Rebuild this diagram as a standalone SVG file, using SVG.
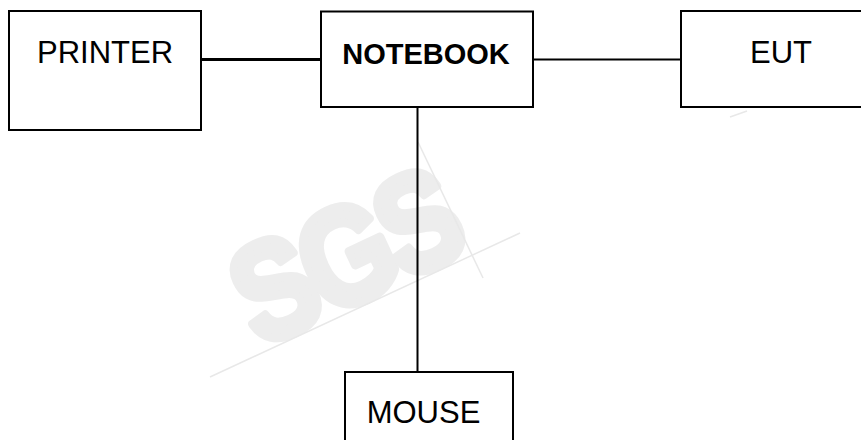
<svg xmlns="http://www.w3.org/2000/svg" width="861" height="440" viewBox="0 0 861 440">
<style>
.box{fill:none;stroke:#000;stroke-width:2}
.lbl{font-family:"Liberation Sans",Arial,sans-serif;font-size:31px;fill:#000;text-anchor:middle}
.bold{font-weight:bold;font-size:29px}
.wm{font-family:"Liberation Sans",Arial,sans-serif;font-weight:bold;font-size:138px;fill:#ededed;stroke:#ededed;stroke-width:9;stroke-linejoin:round;text-anchor:middle}
.wml{stroke:#e8e8e8;stroke-width:1.5;fill:none}
.conn{stroke:#000;fill:none}
</style>
<rect width="861" height="440" fill="#fff"/>
<g id="watermark">
<g transform="translate(346,254) rotate(-25) scale(0.85,1)">
<text class="wm" x="-93 0 93" y="49">SGS</text>
</g>
<line class="wml" x1="210" y1="377" x2="520" y2="233"/>
<line class="wml" x1="418" y1="142" x2="483" y2="278"/>
<line class="wml" x1="730" y1="117" x2="747" y2="111"/>
</g>
<g id="connectors">
<line class="conn" stroke-width="3" x1="201" y1="59.5" x2="321" y2="59.5"/>
<line class="conn" stroke-width="2" x1="533" y1="59.5" x2="681" y2="59.5"/>
<line class="conn" stroke-width="2" x1="417.5" y1="107" x2="417.5" y2="372"/>
</g>
<g id="printer">
<rect class="box" x="9" y="11" width="192" height="119"/>
<text class="lbl" x="105" y="63">PRINTER</text>
</g>
<g id="notebook">
<rect class="box" x="321" y="11.5" width="212" height="95.5"/>
<text class="lbl bold" x="426" y="64">NOTEBOOK</text>
</g>
<g id="eut">
<rect class="box" x="681" y="11" width="200" height="96"/>
<text class="lbl" x="781" y="63">EUT</text>
</g>
<g id="mouse">
<rect class="box" x="345" y="372" width="168" height="80"/>
<text class="lbl" x="423.5" y="423">MOUSE</text>
</g>
</svg>
